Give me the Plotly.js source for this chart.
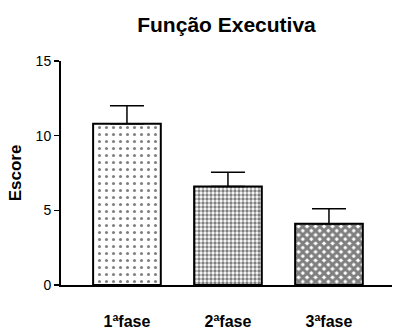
<!DOCTYPE html>
<html>
<head>
<meta charset="utf-8">
<script src="https://cdn.plot.ly/plotly-3.0.1.min.js"></script>
<style>
  html, body { margin: 0; padding: 0; background: #fff; }
  #chart { width: 393px; height: 331px; }
</style>
</head>
<body>
<div id="chart"></div>
<script>
// Executive function score per phase (mean with upper error bar)
const phases = ['1ªfase', '2ªfase', '3ªfase'];
const scores = [10.8, 6.6, 4.1];
const errors = [1.2, 0.95, 1.0];
const yTicks = [0, 5, 10, 15];

// fill texture for each phase
const patternShapes = ['.', '.', 'x'];
const patternSizes = [7, 4, 6];
const patternSolidity = [0.15, 0.55, 0.75];

const trace = {
  type: 'bar',
  x: phases,
  y: scores,
  width: 0.67,
  marker: {
    color: '#ffffff',
    line: { color: '#000000', width: 2 },
    pattern: {
      shape: patternShapes,
      size: patternSizes,
      solidity: patternSolidity,
      fgcolor: '#000000',
      bgcolor: '#ffffff',
      fillmode: 'overlay'
    }
  },
  error_y: {
    type: 'data',
    array: errors,
    arrayminus: [0, 0, 0],
    symmetric: false,
    color: '#000000',
    thickness: 1.5,
    width: 17
  },
  hoverinfo: 'skip'
};

const layout = {
  width: 393,
  height: 331,
  margin: { l: 61, r: 1, t: 61, b: 46 },
  paper_bgcolor: '#ffffff',
  plot_bgcolor: '#ffffff',
  showlegend: false,
  font: { family: 'Liberation Sans, Arial, sans-serif', color: '#000000' },
  title: {
    text: '<b>Função Executiva</b>',
    font: { size: 21, family: 'Liberation Sans, Arial, sans-serif', color: '#000000' },
    x: 0.5,
    xref: 'paper',
    y: 0.925,
    yref: 'container',
    yanchor: 'middle'
  },
  xaxis: {
    type: 'category',
    range: [-0.653, 2.624],
    showline: true,
    linecolor: '#000000',
    linewidth: 2,
    ticks: '',
    showgrid: false,
    zeroline: false,
    ticklabelstandoff: 21,
    tickfont: { size: 16, family: 'Liberation Sans, Arial, sans-serif', color: '#000000', weight: 'bold' }
  },
  yaxis: {
    range: [0, 15],
    tickvals: yTicks,
    ticktext: yTicks.map(String),
    showline: true,
    linecolor: '#000000',
    linewidth: 2,
    ticks: 'outside',
    ticklen: 5,
    tickwidth: 1.5,
    tickcolor: '#000000',
    showgrid: false,
    zeroline: false,
    tickfont: { size: 14, family: 'Liberation Sans, Arial, sans-serif', color: '#000000' },
    title: {
      text: '<b>Escore</b>',
      font: { size: 17, family: 'Liberation Sans, Arial, sans-serif', color: '#000000' },
      standoff: 10
    }
  }
};

Plotly.newPlot('chart', [trace], layout, { displayModeBar: false, staticPlot: true });
</script>
</body>
</html>
